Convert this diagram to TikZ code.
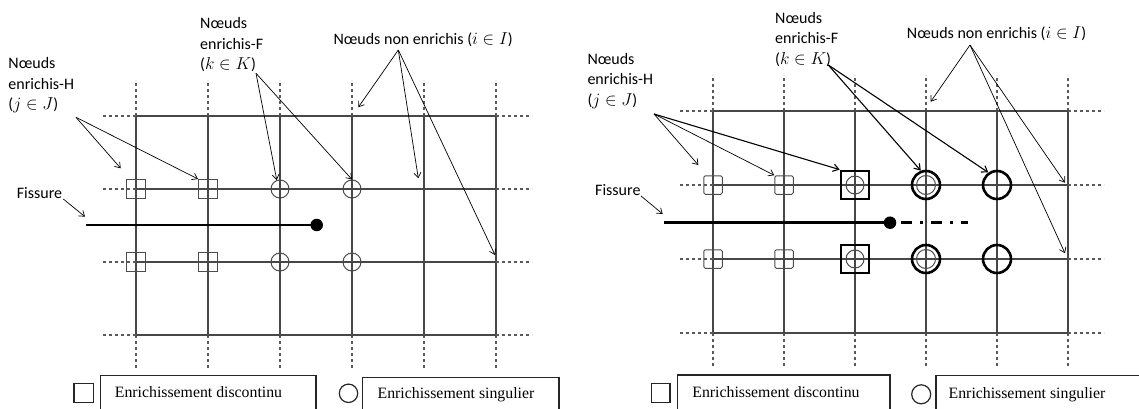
\documentclass[tikz,border=0pt]{standalone}
\usepackage{fontspec}
\setmainfont{Liberation Serif}
\newfontfamily\calib{Carlito}
\usetikzlibrary{arrows.meta}
\newcommand{\maillage}[5]{%
\foreach \c in {0,...,5}{\foreach \r in {0,...,3}{\coordinate (#1-\c-\r) at ({#2+\c*#4},{#3+\r*#5});}}
\foreach \c in {0,...,5}{\draw[trait] (#1-\c-0)--(#1-\c-3);\draw[pointille] (#1-\c-0)--++(0,-36);\draw[pointille] (#1-\c-3)--++(0,33);}
\foreach \r in {0,...,3}{\draw[trait] (#1-0-\r)--(#1-5-\r);\draw[pointille] (#1-0-\r)--++(-33,0);\draw[pointille] (#1-5-\r)--++(36,0);}}

\begin{document}
\begin{tikzpicture}[x=1pt,y=-1pt,
  trait/.style={black!72,line width=1.2pt},
  pointille/.style={black!65,line width=1.1pt,dash pattern=on 3pt off 3pt},
  carre/.style={draw=black!70,line width=1pt,minimum size=19pt,inner sep=0},
  rond/.style={draw=black!70,circle,line width=1pt,minimum size=18pt,inner sep=0},
  carreG/.style={draw,line width=2.8pt,minimum size=28pt,inner sep=0},
  rondG/.style={draw,circle,line width=2.6pt,minimum size=28pt,inner sep=0},
  pointe/.style={circle,fill,inner sep=0,minimum size=12.5pt},
  fissure/.style={line width=2.6pt},
  fl/.style={-{Straight Barb[length=5pt,width=7pt]},line width=.7pt},
  flG/.style={-{Straight Barb[length=5.5pt,width=7.5pt]},line width=1.1pt},
  etiq/.style={font=\calib\fontsize{16}{20.5}\selectfont,align=left,anchor=north west,inner sep=0},
  etiq1/.style={font=\calib\fontsize{16}{20.5}\selectfont,anchor=base west,inner sep=0},
  leg/.style={font=\fontsize{15.8}{18}\selectfont,anchor=base,inner sep=0},
  legbox/.style={black!85,line width=1.2pt}]
\useasboundingbox (0,0) rectangle (1139,409);
\maillage{L}{136}{116}{72}{73}
\maillage{R}{713}{111}{71}{74}
\draw[fissure] (86,225) coordinate (fisA1) -- (316.7,225) node[pointe] (tip1) {};
\draw[fissure] (664,222.7) coordinate (fisA2) -- (890,222.7) node[pointe] (tip2) {};
\coordinate (fisB2) at (968,222.7);
\draw[fissure,dash pattern=on 11pt off 8pt on 3pt off 8pt] ([xshift=3.5pt]tip2.east) -- (fisB2);
\node[carre] (hq1) at (L-0-1) {};\node[carre] (hq2) at (L-1-1) {};
\node[carre] (hq3) at (L-0-2) {};\node[carre] (hq4) at (L-1-2) {};
\node[rond] (kc1) at (L-2-1) {};\node[rond] (kc2) at (L-3-1) {};
\node[rond] (kc3) at (L-2-2) {};\node[rond] (kc4) at (L-3-2) {};
\node[carre,rounded corners=1.5pt,minimum size=18.5pt] (rq1) at (R-0-1) {};
\node[carre,rounded corners=1.5pt,minimum size=18.5pt] (rq2) at (R-1-1) {};
\node[carre,rounded corners=1.5pt,minimum size=18.5pt] (rq3) at (R-0-2) {};
\node[carre,rounded corners=1.5pt,minimum size=18.5pt] (rq4) at (R-1-2) {};
\node[carreG] (rs1) at (R-2-1) {};\node[rond] at (R-2-1) {};
\node[carreG] (rs2) at (R-2-2) {};\node[rond] at (R-2-2) {};
\node[rondG] (rc1) at (R-3-1) {};\node[rond,minimum size=19pt] at (R-3-1) {};
\node[rondG] (rc2) at (R-3-2) {};\node[rond,minimum size=19pt] at (R-3-2) {};
\node[rondG] (rc3) at (R-4-1) {};\node[rondG] (rc4) at (R-4-2) {};
\node[etiq] (nH1) at (8.3,57.5) {Nœuds\\enrichis-H\\($j\in J$)};
\node[etiq] (nF1) at (200,17.5) {Nœuds\\enrichis-F\\($k\in K$)};
\node[etiq1] (nI1) at (333.3,45) {Nœuds non enrichis ($i\in I$)};
\node[etiq1] (fs1) at (16.7,198.5) {Fissure};
\node[etiq] (nH2) at (587.3,53) {Nœuds\\enrichis-H\\($j\in J$)};
\node[etiq] (nF2) at (775,12) {Nœuds\\enrichis-F\\($k\in K$)};
\node[etiq1] (nI2) at (906.7,39) {Nœuds non enrichis ($i\in I$)};
\node[etiq1] (fs2) at (595,195) {Fissure};
\coordinate (sH1) at (76,117.3);\coordinate (sF1) at (256,73.3);\coordinate (sI1) at (398.3,50);
\coordinate (sH2) at (654,114);\coordinate (sF2) at (828.3,65);\coordinate (sI2) at (970,45);
\draw[fl] (63.3,199) coordinate (sX1) -- (85,216.7);
\draw[fl] (641,196) coordinate (sX2) -- (662.7,214);
\draw[fl] (sH1) -- (120.7,168.3) coordinate (tH1);
\draw[fl] (sH1) -- (hq2.north west);
\draw[fl] (sF1) -- (kc1.110);
\draw[fl] (sF1) -- (kc2.north);
\draw[fl] (sI1) -- (358.3,107.3) coordinate (tI1);
\draw[fl] (sI1) -- (418.3,178.3) coordinate (tI2);
\draw[fl] (sI1) -- (495,255) coordinate (tI3);
\draw[fl] (sH2) -- (698.3,165) coordinate (tH2);
\draw[fl] (sH2) -- (rq2.north west);
\draw[flG] (sH2) -- (rs1.north west);
\draw[flG] (sF2) -- (rc1.110);
\draw[flG] (sF2) -- (rc3.125);
\draw[fl] (sI2) -- (930.7,101.7) coordinate (tI4);
\draw[fl] (sI2) -- (1065,182.7) coordinate (tI5);
\draw[fl] (sI2) -- (1065,253.3) coordinate (tI6);
\draw[legbox] (74,383.3) rectangle (93.3,402.7);
\draw[legbox] (100.7,409) |- (316,375.7) -- (316,409);
\node[leg] (lD1) at (198.5,397.5) {Enrichissement discontinu};
\draw[legbox] (348.5,393.3) circle[radius=9.2];
\draw[legbox] (362.7,409) |- (559,377.7) -- (559,409);
\node[leg] (lS1) at (456,398) {Enrichissement singulier};
\draw[legbox] (651.7,383.3) rectangle (670,402.3);
\draw[legbox] (677.3,409) |- (890,375) -- (890,409);
\node[leg] (lD2) at (776,397.5) {Enrichissement discontinu};
\draw[legbox] (921.2,394.3) circle[radius=9.5];
\draw[legbox] (936,409) |- (1139,375.7);
\node[leg] (lS2) at (1027,398) {Enrichissement singulier};
\end{tikzpicture}
\end{document}
